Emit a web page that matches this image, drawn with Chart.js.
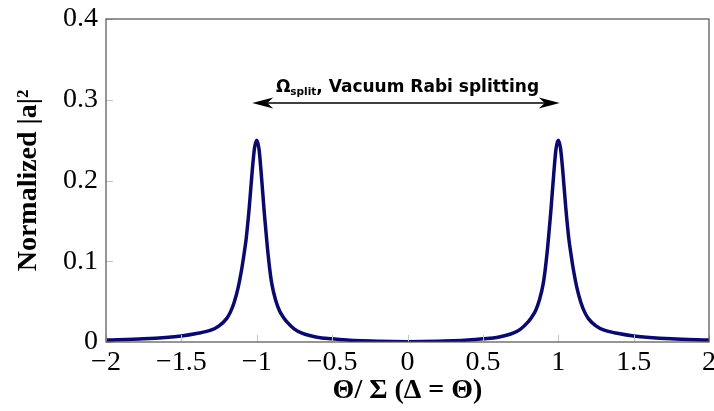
<!DOCTYPE html>
<html lang="en">
<head>
  <meta charset="UTF-8" />
  <title>Vacuum Rabi splitting</title>
  <script src="https://cdn.jsdelivr.net/npm/chart.js"></script>
  <style>
    html, body { margin: 0; padding: 0; background: #fff; }
    #wrap { width: 714px; height: 411px; }
  </style>
</head>
<body>
  <div id="wrap"><canvas id="rabi" width="714" height="411"></canvas></div>

  <script>
    // Theta / Sigma (detuning) and normalized |a|^2
    const thetaX = [
      -2, -1.75, -1.5, -1.4, -1.3, -1.25, -1.2, -1.175, -1.15, -1.125, -1.1, -1.085, -1.07, -1.05,
      -1.03, -1.015, -1, -0.985, -0.97, -0.95, -0.93, -0.915, -0.9, -0.875, -0.85, -0.825, -0.8,
      -0.75, -0.7, -0.6, -0.5, -0.4, -0.3, -0.2, 0,
      0.2, 0.3, 0.4, 0.5, 0.6, 0.7, 0.75, 0.8, 0.825, 0.85, 0.875, 0.9, 0.915, 0.93, 0.95, 0.97,
      0.985, 1, 1.015, 1.03, 1.05, 1.07, 1.085, 1.1, 1.125, 1.15, 1.175, 1.2, 1.25, 1.3, 1.4, 1.5, 1.75, 2
    ];
    const amplitude = [
      0.0025, 0.004, 0.0075, 0.0105, 0.015, 0.020, 0.029, 0.037, 0.049, 0.066, 0.090, 0.108, 0.128, 0.166,
      0.212, 0.240, 0.250, 0.239, 0.208, 0.160, 0.118, 0.092, 0.072, 0.052, 0.039, 0.031, 0.025,
      0.016, 0.011, 0.006, 0.004, 0.0025, 0.0015, 0.0008, 0.0003,
      0.0008, 0.0015, 0.0025, 0.004, 0.006, 0.011, 0.016, 0.025, 0.031, 0.039, 0.052, 0.072, 0.092, 0.118, 0.160, 0.208,
      0.239, 0.250, 0.240, 0.212, 0.166, 0.128, 0.108, 0.090, 0.066, 0.049, 0.037, 0.029, 0.020, 0.015, 0.0105, 0.0075, 0.004, 0.0025
    ];

    const xTicks = [-2, -1.5, -1, -0.5, 0, 0.5, 1, 1.5, 2];
    const yTicks = [0, 0.1, 0.2, 0.3, 0.4];

    // double arrow between the two peaks
    const arrowFrom = -1.03;
    const arrowTo = 1.01;
    const arrowLevel = 0.296;

    const serif = '"Liberation Serif", "Times New Roman", serif';
    const sans = '"DejaVu Sans", sans-serif';

    function fmt(v) {
      const r = Math.round(v * 10) / 10;
      return r < 0 ? '\u2212' + Math.abs(r) : String(r);
    }

    // frame, inward ticks, arrow and its label
    const decor = {
      id: 'decor',
      afterDatasetsDraw(chart) {
        const { ctx, chartArea: a, scales: { x, y } } = chart;
        ctx.save();

        ctx.strokeStyle = '#c4c4c4';
        ctx.lineWidth = 1;
        xTicks.forEach(t => {
          const px = Math.round(x.getPixelForValue(t)) + 0.5;
          ctx.beginPath(); ctx.moveTo(px, a.bottom); ctx.lineTo(px, a.bottom - 7); ctx.stroke();
        });
        yTicks.forEach(t => {
          const py = Math.round(y.getPixelForValue(t)) + 0.5;
          ctx.beginPath(); ctx.moveTo(a.left, py); ctx.lineTo(a.left + 7, py); ctx.stroke();
        });

        ctx.strokeStyle = '#505050';
        ctx.lineWidth = 1.2;
        ctx.strokeRect(a.left, a.top, a.right - a.left, a.bottom - a.top);

        const x1 = x.getPixelForValue(arrowFrom);
        const x2 = x.getPixelForValue(arrowTo);
        const ay = y.getPixelForValue(arrowLevel);
        ctx.strokeStyle = '#000';
        ctx.fillStyle = '#000';
        ctx.lineWidth = 1.5;
        ctx.beginPath(); ctx.moveTo(x1 + 10, ay); ctx.lineTo(x2 - 10, ay); ctx.stroke();
        [[x1, 1], [x2, -1]].forEach(([tx, d]) => {
          ctx.beginPath();
          ctx.moveTo(tx, ay);
          ctx.lineTo(tx + d * 21, ay - 5.5);
          ctx.lineTo(tx + d * 15, ay);
          ctx.lineTo(tx + d * 21, ay + 5.5);
          ctx.closePath();
          ctx.fill();
        });

        // label: Omega_split, Vacuum Rabi splitting
        const big = 'bold 17px ' + sans;
        const small = 'bold 10.5px ' + sans;
        const parts = [
          { t: '\u03A9', f: big, dy: 0 },
          { t: 'split', f: small, dy: 3 },
          { t: ', Vacuum Rabi splitting', f: big, dy: 0 }
        ];
        let w = 0;
        parts.forEach(p => { ctx.font = p.f; p.w = ctx.measureText(p.t).width; w += p.w; });
        let cx = x.getPixelForValue(0) - w / 2;
        const base = ay - 11;
        ctx.textBaseline = 'alphabetic';
        ctx.textAlign = 'left';
        parts.forEach(p => {
          ctx.font = p.f;
          ctx.fillText(p.t, cx, base + p.dy);
          cx += p.w;
        });

        ctx.restore();
      }
    };

    const ctx = document.getElementById('rabi').getContext('2d');
    new Chart(ctx, {
      type: 'scatter',
      data: {
        datasets: [{
          data: thetaX.map((v, i) => ({ x: v, y: amplitude[i] })),
          showLine: true,
          borderColor: '#0a0a6e',
          borderWidth: 3.5,
          pointRadius: 0,
          cubicInterpolationMode: 'monotone',
          borderCapStyle: 'round',
          borderJoinStyle: 'round'
        }]
      },
      options: {
        responsive: false,
        animation: false,
        events: [],
        layout: { padding: { left: 0, top: 19, right: 5, bottom: 0 } },
        plugins: {
          legend: { display: false },
          tooltip: { enabled: false }
        },
        scales: {
          x: {
            type: 'linear',
            min: -2,
            max: 2,
            afterBuildTicks: s => { s.ticks = xTicks.map(v => ({ value: v })); },
            afterFit: s => { s.height = 69; s.paddingLeft = 0; s.paddingRight = 0; },
            grid: { display: false, drawTicks: false },
            border: { display: false },
            ticks: {
              padding: 4,
              color: '#000',
              font: { family: serif, size: 28 },
              callback: fmt
            },
            title: {
              display: true,
              text: '\u0398/ \u03A3 (\u0394 = \u0398)',
              color: '#000',
              font: { family: serif, size: 28, weight: 'bold' },
              padding: { top: 0, bottom: 3 }
            }
          },
          y: {
            type: 'linear',
            min: 0,
            max: 0.4,
            afterBuildTicks: s => { s.ticks = yTicks.map(v => ({ value: v })); },
            afterFit: s => { s.width = 106; s.paddingTop = 0; s.paddingBottom = 0; },
            grid: { display: false, drawTicks: false },
            border: { display: false },
            ticks: {
              padding: 8,
              color: '#000',
              font: { family: serif, size: 28 },
              callback: fmt
            },
            title: {
              display: true,
              text: 'Normalized |a|\u00B2',
              color: '#000',
              font: { family: serif, size: 28, weight: 'bold' },
              padding: { top: 12, bottom: 0 }
            }
          }
        }
      },
      plugins: [decor]
    });
  </script>
</body>
</html>
